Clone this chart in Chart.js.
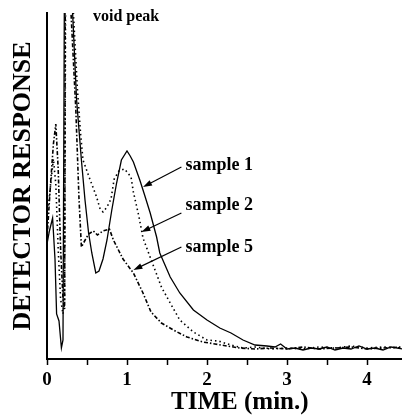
<!DOCTYPE html>
<html>
<head>
<meta charset="utf-8">
<script src="https://cdn.jsdelivr.net/npm/chart.js@4.4.0/dist/chart.umd.min.js"></script>
<style>
html, body { margin: 0; padding: 0; background: #fff; }
#wrap { width: 402px; height: 420px; position: relative; }
</style>
</head>
<body>
<div id="wrap"><canvas id="myChart"></canvas></div>
<script>
// chromatogram traces, time in min, response in arbitrary units
const sample1Time = [0, 0.03, 0.07, 0.10, 0.12, 0.15, 0.18, 0.20, 0.22, 0.31, 0.32, 0.37, 0.43, 0.475, 0.52, 0.56, 0.61, 0.65, 0.70, 0.75, 0.81, 0.87, 0.93, 1.0, 1.04, 1.08, 1.16, 1.22, 1.29, 1.37, 1.41, 1.54, 1.66, 1.83, 2.0, 2.16, 2.3, 2.45, 2.6, 2.75, 2.85, 2.92, 3.0, 3.1, 3.2, 3.3, 3.4, 3.5, 3.6, 3.7, 3.8, 3.9, 4.0, 4.1, 4.2, 4.3, 4.44];
const sample1Resp = [115, 128, 141, 100, 45, 38, 11, 19, 420, 420, 346, 259, 199, 159, 126, 106, 86, 88, 100, 119, 149, 176, 199, 208, 203, 197, 179, 164, 146, 122, 106, 82, 66, 49, 39, 31, 26, 19, 14, 13, 12, 15, 10, 11, 9, 11, 10, 12, 9, 11, 10, 13, 10, 11, 9, 12, 10];

const sample2Time = [0, 0.04, 0.08, 0.11, 0.14, 0.17, 0.20, 0.22, 0.235, 0.31, 0.33, 0.38, 0.42, 0.45, 0.54, 0.62, 0.66, 0.70, 0.75, 0.80, 0.84, 0.90, 0.97, 1.05, 1.08, 1.15, 1.2, 1.27, 1.35, 1.43, 1.54, 1.66, 1.83, 2.0, 2.14, 2.3, 2.45, 2.6, 2.8, 3.0, 3.2, 3.4, 3.6, 3.8, 4.0, 4.2, 4.44];
const sample2Resp = [140, 170, 200, 175, 110, 60, 45, 60, 420, 420, 346, 270, 225, 199, 179, 162, 151, 147, 152, 160, 180, 188, 190, 182, 167, 142, 121, 106, 89, 72, 56, 39, 27, 19, 18, 14, 11, 12, 10, 11, 10, 12, 11, 13, 11, 12, 11];

const sample5Time = [0, 0.04, 0.08, 0.11, 0.14, 0.17, 0.20, 0.22, 0.23, 0.28, 0.30, 0.36, 0.40, 0.43, 0.47, 0.52, 0.58, 0.63, 0.70, 0.78, 0.83, 0.95, 1.08, 1.2, 1.3, 1.43, 1.58, 1.75, 1.95, 2.1, 2.25, 2.41, 2.6, 2.8, 3.0, 3.2, 3.4, 3.6, 3.8, 4.0, 4.2, 4.44];
const sample5Resp = [120, 170, 215, 235, 190, 110, 60, 50, 420, 420, 346, 250, 160, 112, 118, 125, 128, 124, 128, 130, 119, 100, 86, 66, 47, 36, 29, 22, 17, 15, 13, 11, 10, 11, 10, 12, 10, 11, 12, 10, 11, 12];

const xTickLabels = ['0', '1', '2', '3', '4'];

function toPoints(times, resp) {
    return times.map((t, i) => ({ x: t, y: resp[i] }));
}

const serif = "'Liberation Serif', 'Times New Roman', serif";

// labels + arrows, placed in data units
const notesPlugin = {
    id: 'notes',
    afterDatasetsDraw(chart) {
        const { ctx, scales: { x, y } } = chart;
        const notes = [
            { text: 'void peak', t: 0.575, r: 342, size: 16 },
            { text: 'sample 1', t: 1.73, r: 194, size: 18, from: [1.68, 192], to: [1.20, 172] },
            { text: 'sample 2', t: 1.73, r: 154, size: 18, from: [1.68, 146], to: [1.18, 127] },
            { text: 'sample 5', t: 1.73, r: 112, size: 18, from: [1.68, 112], to: [1.08, 89] }
        ];
        ctx.save();
        ctx.fillStyle = '#000';
        ctx.strokeStyle = '#000';
        ctx.textBaseline = 'middle';
        ctx.textAlign = 'left';
        notes.forEach(n => {
            ctx.font = 'bold ' + n.size + 'px ' + serif;
            ctx.fillText(n.text, x.getPixelForValue(n.t), y.getPixelForValue(n.r));
            if (n.from) {
                const x1 = x.getPixelForValue(n.from[0]), y1 = y.getPixelForValue(n.from[1]);
                const x2 = x.getPixelForValue(n.to[0]), y2 = y.getPixelForValue(n.to[1]);
                const a = Math.atan2(y2 - y1, x2 - x1);
                ctx.lineWidth = 1.2;
                ctx.beginPath();
                ctx.moveTo(x1, y1);
                ctx.lineTo(x2 - 6 * Math.cos(a), y2 - 6 * Math.sin(a));
                ctx.stroke();
                ctx.beginPath();
                ctx.moveTo(x2, y2);
                ctx.lineTo(x2 - 9 * Math.cos(a) + 3 * Math.sin(a), y2 - 9 * Math.sin(a) - 3 * Math.cos(a));
                ctx.lineTo(x2 - 9 * Math.cos(a) - 3 * Math.sin(a), y2 - 9 * Math.sin(a) + 3 * Math.cos(a));
                ctx.closePath();
                ctx.fill();
            }
        });
        // x axis title sits a bit right of centre in the original
        ctx.font = 'bold 25px ' + serif;
        ctx.textAlign = 'center';
        ctx.fillText('TIME (min.)', x.getPixelForValue(2.41), chart.height - 17);
        ctx.restore();
    }
};

let ctx = document.getElementById('myChart').getContext('2d');
let myChart = new Chart(ctx, {
    type: 'line',
    data: {
        datasets: [
            {
                label: 'sample 1',
                data: toPoints(sample1Time, sample1Resp),
                borderColor: '#000',
                borderWidth: 1.3
            },
            {
                label: 'sample 2',
                data: toPoints(sample2Time, sample2Resp),
                borderColor: '#000',
                borderWidth: 1.6,
                borderDash: [1.5, 3]
            },
            {
                label: 'sample 5',
                data: toPoints(sample5Time, sample5Resp),
                borderColor: '#000',
                borderWidth: 1.6,
                borderDash: [4, 2, 1.5, 2]
            }
        ]
    },
    options: {
        animation: false,
        responsive: true,
        maintainAspectRatio: false,
        devicePixelRatio: 1,
        layout: { padding: { top: 13, right: 0, left: 0, bottom: 0 } },
        elements: {
            point: { radius: 0 },
            line: { tension: 0 }
        },
        plugins: {
            legend: { display: false },
            tooltip: { enabled: false }
        },
        scales: {
            x: {
                type: 'linear',
                min: 0,
                max: 4.4375,
                afterFit: scale => { scale.height = 61; },
                afterBuildTicks: scale => {
                    scale.ticks = scale.ticks.filter(t => Math.abs(t.value * 2 - Math.round(t.value * 2)) < 1e-6);
                },
                ticks: {
                    stepSize: 0.5,
                    includeBounds: false,
                    autoSkip: false,
                    maxRotation: 0,
                    padding: 4,
                    color: '#000',
                    font: { family: serif, size: 19, weight: 'bold' },
                    callback: v => Number.isInteger(v) ? xTickLabels[v] : ''
                },
                grid: {
                    drawOnChartArea: false,
                    drawTicks: true,
                    tickLength: 6,
                    tickWidth: 1.5,
                    tickColor: '#000'
                },
                border: { display: true, color: '#000', width: 2 },
                title: { display: false }
            },
            y: {
                min: 0,
                max: 346,
                afterFit: scale => { scale.width = 47; },
                ticks: { display: false },
                grid: { display: false, drawTicks: false },
                border: { display: true, color: '#000', width: 2 },
                title: {
                    display: true,
                    text: 'DETECTOR RESPONSE',
                    color: '#000',
                    font: { family: serif, size: 26, weight: 'bold', lineHeight: 1 },
                    padding: { top: 10, bottom: 0 }
                }
            }
        }
    },
    plugins: [notesPlugin]
});
</script>
</body>
</html>
